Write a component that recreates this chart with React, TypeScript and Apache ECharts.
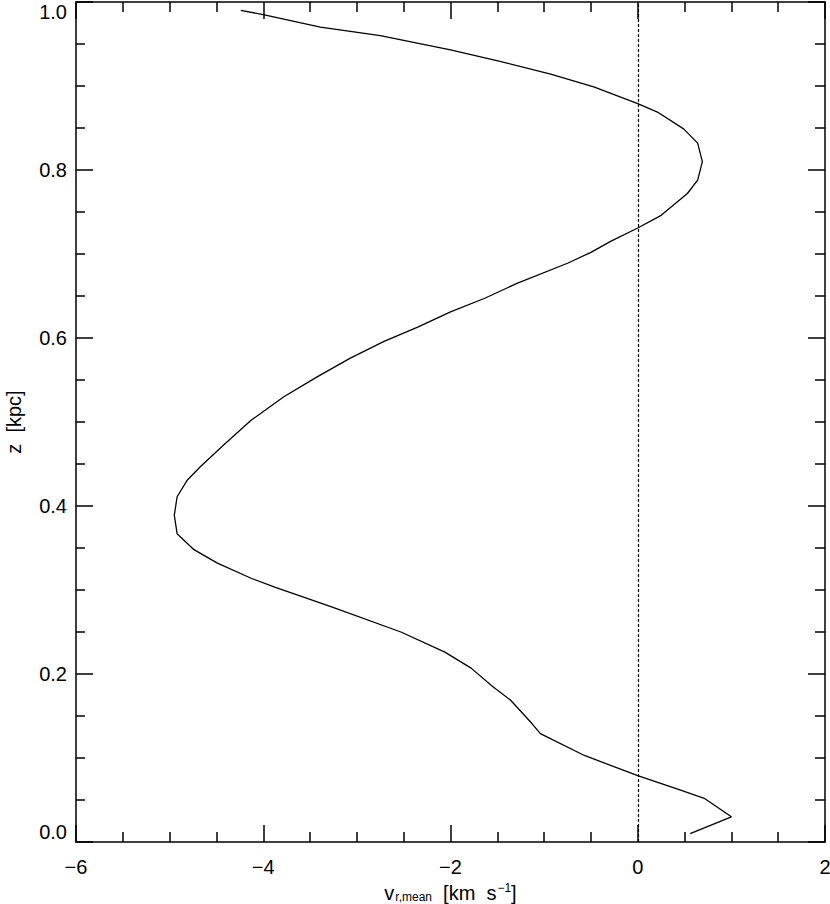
import React, { useEffect, useRef } from "react";
import * as echarts from "echarts";

// v_{r,mean} [km s^-1] values, ordered by height z [kpc]
const vMean: number[] = [
  0.56, 1.0, 0.71, 0.45, 0.0, -0.57, -1.04, -1.13, -1.36, -1.55, -1.78, -2.06,
  -2.53, -3.27, -3.87, -4.13, -4.49, -4.74, -4.92, -4.95, -4.92, -4.81, -4.67,
  -4.42, -4.13, -3.78, -3.42, -3.07, -2.71, -2.35, -2.0, -1.64, -1.29, -0.75,
  -0.5, -0.29, 0.0, 0.25, 0.53, 0.64, 0.69, 0.64, 0.49, 0.21, 0.0, -0.47,
  -0.93, -1.46, -2.0, -2.75, -3.39, -4.0, -4.24,
];
const zKpc: number[] = [
  0.01, 0.03, 0.052, 0.062, 0.079, 0.103, 0.129, 0.141, 0.169, 0.185, 0.207,
  0.226, 0.25, 0.28, 0.303, 0.314, 0.332, 0.348, 0.367, 0.389, 0.411, 0.431,
  0.447, 0.473, 0.502, 0.53, 0.554, 0.576, 0.596, 0.613, 0.631, 0.647, 0.665,
  0.689, 0.702, 0.715, 0.731, 0.746, 0.772, 0.788, 0.81, 0.832, 0.849, 0.869,
  0.879, 0.899, 0.914, 0.929, 0.943, 0.96, 0.97, 0.985, 0.99,
];
const xRange = { min: -6, max: 2, interval: 2 };
const yRange = { min: 0, max: 1, interval: 0.2 };
const zeroLine = 0;

const FONT = "Liberation Sans";

export default function App() {
  const ref = useRef<HTMLDivElement>(null);
  useEffect(() => {
    document.body.style.margin = "0";
    const chart = echarts.init(ref.current!, null, { renderer: "svg" });
    const axisCommon = {
      type: "value" as const,
      axisLine: { show: true, onZero: false, lineStyle: { color: "#000", width: 1.5 } },
      axisTick: { show: true, inside: true, length: 17, lineStyle: { color: "#000", width: 1.5 } },
      minorTick: { show: true, splitNumber: 4, length: 10, lineStyle: { color: "#000", width: 1.5 } },
      splitLine: { show: false },
    };
    const xLabel = {
      show: true,
      color: "#000",
      fontFamily: FONT,
      fontSize: 20,
      margin: 15,
      formatter: (v: number) => String(v).replace("-", "\u2212"),
    };
    const yLabel = {
      show: true,
      color: "#000",
      fontFamily: FONT,
      fontSize: 20,
      margin: 9,
      verticalAlignMaxLabel: "top",
      verticalAlignMinLabel: "bottom",
      formatter: (v: number) => v.toFixed(1),
    };
    chart.setOption({
      animation: false,
      backgroundColor: "#fff",
      grid: {
        left: 76,
        right: 5,
        top: 2,
        bottom: 62,
        containLabel: false,
        outerBoundsMode: "none",
      },
      xAxis: [
        {
          ...axisCommon,
          position: "bottom",
          ...xRange,
          axisLabel: xLabel,
          name: "{v|v}{sub|r,mean}{t|  [km  s}{sup|\u22121}{t|]}",
          nameLocation: "middle",
          nameGap: 36,
          nameTextStyle: {
            rich: {
              v: { fontFamily: FONT, fontSize: 20, color: "#000", verticalAlign: "bottom" },
              sub: { fontFamily: FONT, fontSize: 12, color: "#000", padding: [9, 0, 0, 1], verticalAlign: "bottom" },
              t: { fontFamily: FONT, fontSize: 20, color: "#000", verticalAlign: "bottom" },
              sup: { fontFamily: FONT, fontSize: 12, color: "#000", padding: [0, 0, 9, 1], verticalAlign: "bottom" },
            },
          },
        },
        {
          ...axisCommon,
          position: "top",
          ...xRange,
          axisLabel: { show: false },
        },
      ],
      yAxis: [
        {
          ...axisCommon,
          position: "left",
          ...yRange,
          axisLabel: yLabel,
          minorTick: { ...axisCommon.minorTick, length: 9 },
          name: "z  [kpc]",
          nameLocation: "middle",
          nameGap: 52,
          nameTextStyle: { fontFamily: FONT, fontSize: 20, color: "#000" },
        },
        {
          ...axisCommon,
          position: "right",
          ...yRange,
          axisLabel: { show: false },
        },
      ],
      series: [
        {
          type: "line",
          xAxisIndex: 0,
          yAxisIndex: 0,
          data: vMean.map((v, i) => [v, zKpc[i]]),
          showSymbol: false,
          symbol: "none",
          lineStyle: { color: "#000", width: 1.3 },
          markLine: {
            silent: true,
            symbol: "none",
            label: { show: false },
            lineStyle: { color: "#000", width: 1.2, type: [3, 2] },
            data: [{ xAxis: zeroLine }],
          },
        },
      ],
    });
    return () => chart.dispose();
  }, []);
  return (
    <div
      ref={ref}
      style={{ position: "fixed", left: 0, top: 0, width: 830, height: 904 }}
    />
  );
}
